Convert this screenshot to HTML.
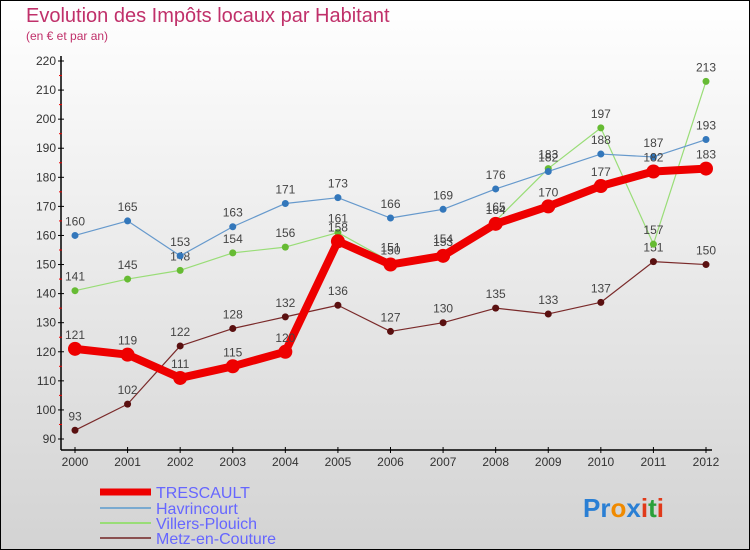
<!DOCTYPE html>
<html><head><meta charset="utf-8"><style>
body{margin:0;width:750px;height:550px;overflow:hidden}
svg{display:block;font-family:"Liberation Sans",sans-serif}
</style></head><body>
<svg id="c" width="750" height="550" xmlns="http://www.w3.org/2000/svg">
<defs><linearGradient id="bg" x1="0" y1="0" x2="0" y2="1"><stop offset="0" stop-color="#ffffff"/><stop offset="1" stop-color="#d3d3d3"/></linearGradient></defs>
<rect x="0.5" y="0.5" width="749" height="549" fill="url(#bg)" stroke="#000"/>
<text x="26" y="22" font-size="20" fill="#c0306a">Evolution des Impôts locaux par Habitant</text>
<text x="26" y="40" font-size="12" fill="#c0306a">(en € et par an)</text>
<g id="axes"></g><g id="series"></g><g id="legend"></g>
<text x="583" y="517" font-size="26" font-weight="bold"><tspan fill="#2a7fd4">Pr</tspan><tspan fill="#f08a00">o</tspan><tspan fill="#2a7fd4">x</tspan><tspan fill="#e03a1a">i</tspan><tspan fill="#2aa03a">t</tspan><tspan fill="#e03a1a">i</tspan></text>
</svg>
<script>
const years=[2000,2001,2002,2003,2004,2005,2006,2007,2008,2009,2010,2011,2012];
const yTicks=[90,100,110,120,130,140,150,160,170,180,190,200,210,220];
const trescault=[121,119,111,115,120,158,150,153,164,170,177,182,183];
const havrincourt=[160,165,153,163,171,173,166,169,176,182,188,187,193];
const villers=[141,145,148,154,156,161,151,154,165,183,197,157,213];
const metz=[93,102,122,128,132,136,127,130,135,133,137,151,150];
const NS="http://www.w3.org/2000/svg";
const X=i=>75+i*(706-75)/12;
const Y=v=>439-(v-90)*(439-61)/130;
function mk(t,a,p){const e=document.createElementNS(NS,t);for(const k in a)e.setAttribute(k,a[k]);p.appendChild(e);return e;}
const ax=document.getElementById('axes');
let l=mk('line',{x1:61,y1:56,x2:61,y2:450,stroke:'#000','stroke-width':1.5},ax);


l=mk('line',{x1:61,y1:450,x2:712,y2:450,stroke:'#000','stroke-width':1.5},ax);


yTicks.forEach((v,i)=>{
 mk('line',{x1:58,y1:Y(v),x2:64,y2:Y(v),stroke:'#000'},ax);
 if(i<yTicks.length-1)mk('line',{x1:59,y1:Y(v+5),x2:62,y2:Y(v+5),stroke:'#e00'},ax);
 const t=mk('text',{x:56,y:Y(v)+4,'font-size':12,fill:'#333','text-anchor':'end'},ax);
 t.textContent=v;
 
 
});
years.forEach((y,i)=>{
 mk('line',{x1:X(i),y1:447,x2:X(i),y2:453,stroke:'#000'},ax);
 const t=mk('text',{x:X(i),y:466,'font-size':12,fill:'#333','text-anchor':'middle'},ax);
 t.textContent=y;
 
 
});
const sg=document.getElementById('series');
const defs=[
 {d:metz,c:'#7a2a2a',dot:'#5a1010',w:1.2,r:3.5,n:'metz-en-couture'},
 {d:villers,c:'#99dd77',dot:'#66bb33',w:1.2,r:3.5,n:'villers-plouich'},
 {d:havrincourt,c:'#6699cc',dot:'#3377bb',w:1.2,r:3.5,n:'havrincourt'},
 {d:trescault,c:'#ee0000',dot:'#ee0000',w:8,r:7,n:'trescault'}];
defs.forEach(s=>{
 const g=mk('g',{},sg);
 
 
 const p=mk('polyline',{points:s.d.map((v,i)=>X(i)+','+Y(v)).join(' '),fill:'none',stroke:s.c,'stroke-width':s.w,'stroke-linejoin':'round'},g);
 
 
 s.d.forEach((v,i)=>{
  const c=mk('circle',{cx:X(i),cy:Y(v),r:s.r,fill:s.dot},g);
  
  
  const t=mk('text',{x:X(i),y:Y(v)-10,'font-size':12,fill:'#444','text-anchor':'middle'},g);
  t.textContent=v;
  
  
 });
});
const lg=document.getElementById('legend');
[['TRESCAULT','#ee0000',7,492],['Havrincourt','#7aaad0',2,508],['Villers-Plouich','#99dd77',2,523],['Metz-en-Couture','#8a5050',2,538]].forEach(e=>{
 const g=mk('g',{},lg);
 
 
 mk('line',{x1:100,y1:e[3],x2:151,y2:e[3],stroke:e[1],'stroke-width':e[2]},g);
 const t=mk('text',{x:156,y:e[3]+6,'font-size':16,fill:'#6666ff'},g);
 t.textContent=e[0];
});
</script>
</body></html>
